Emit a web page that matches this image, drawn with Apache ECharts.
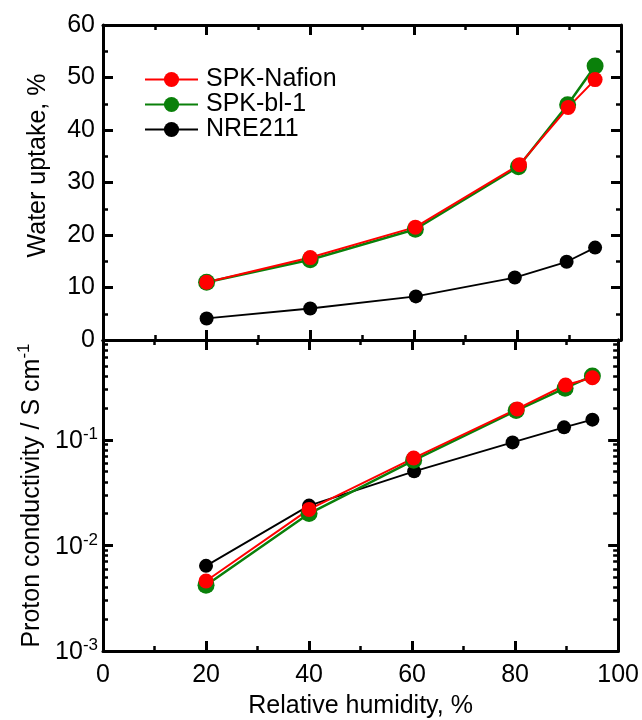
<!DOCTYPE html>
<html>
<head>
<meta charset="utf-8">
<script src="https://cdn.jsdelivr.net/npm/echarts@6/dist/echarts.min.js"></script>
<style>
  html, body { margin: 0; padding: 0; background: #fff; }
  #main { width: 642px; height: 720px; }
</style>
</head>
<body>
<div id="main"></div>
<script>
// relative humidity (x) for each sample
var humidityNafion = [20, 40, 60.3, 80.4, 89.8, 95];
var humidityBl1 = [20, 40, 60.3, 80.2, 89.7, 95];
var humidityNre = [20, 40, 60.4, 79.5, 89.5, 95];

// water uptake, %
var uptakeNafion = [11.0, 15.7, 21.5, 33.4, 44.3, 49.6];
var uptakeBl1 = [11.0, 15.3, 21.1, 33.0, 44.8, 52.2];
var uptakeNre = [4.1, 6.0, 8.3, 11.9, 14.9, 17.6];

// proton conductivity, S/cm
var condNafion = [0.0046, 0.0219, 0.0671, 0.196, 0.330, 0.387];
var condBl1 = [0.0042, 0.0200, 0.0639, 0.189, 0.308, 0.402];
var condNre = [0.0064, 0.0238, 0.0502, 0.0944, 0.131, 0.155];

// log axis ticks
var logMajor = [0.001, 0.01, 0.1];
var logMax = 0.88;
var logMinor = [];
logMajor.forEach(function (d) {
  for (var k = 2; k <= 9; k++) {
    if (d * k < logMax) logMinor.push(d * k);
  }
});

function pairs(xs, ys) {
  return xs.map(function (x, i) { return [x, ys[i]]; });
}

var FONT = 'Liberation Sans, Arial, sans-serif';
var FS = 25;
// onZero off, otherwise top/right axes jump onto the zero line
var lineAx = { onZero: false, lineStyle: { color: '#000', width: 3 } };
var tickMajor = { inside: true, length: 10, lineStyle: { color: '#000', width: 3 } };
var tickMinor = { show: true, splitNumber: 2, length: 5, lineStyle: { color: '#000', width: 2.5 } };
var lbl = { color: '#000', fontSize: FS, fontFamily: FONT };

function xAx(grid, pos, showLabel) {
  return {
    type: 'value', gridIndex: grid, position: pos, min: 0, max: 100, interval: 20,
    axisLine: lineAx, axisTick: tickMajor, minorTick: tickMinor,
    splitLine: { show: false },
    axisLabel: Object.assign({ show: showLabel, margin: 12 }, lbl)
  };
}

var supRich = {
  b: { fontSize: FS, fontFamily: FONT, color: '#000', verticalAlign: 'bottom' },
  s: { fontSize: 17, fontFamily: FONT, color: '#000', verticalAlign: 'bottom', padding: [0, 0, 11, 0] }
};

function logAx(pos, major) {
  return {
    type: 'log', logBase: 10, gridIndex: 1, position: pos, min: 0.001, max: logMax,
    axisLine: lineAx, splitLine: { show: false }, minorTick: { show: false },
    axisTick: {
      inside: true, customValues: major ? logMajor : logMinor, length: major ? 10 : 5,
      lineStyle: { color: '#000', width: major ? 3 : 2.5 }
    },
    axisLabel: { show: false }
  };
}

var yLogLeft = logAx('left', true);
yLogLeft.axisLabel = {
  show: true, margin: 5, customValues: logMajor,
  formatter: function (v) {
    return '{b|10}{s|' + Math.round(Math.log10(v)) + '}';
  },
  rich: supRich
};
yLogLeft.name = '{b|Proton conductivity / S cm}{s|-1}';
yLogLeft.nameLocation = 'middle';
yLogLeft.nameGap = 58;
yLogLeft.nameTextStyle = { rich: supRich };

var xBottom = xAx(1, 'bottom', true);
xBottom.name = 'Relative humidity, %';
xBottom.nameLocation = 'middle';
xBottom.nameGap = 43;
xBottom.nameTextStyle = lbl;

var option = {
  animation: false,
  backgroundColor: '#fff',
  textStyle: { fontFamily: FONT },
  grid: [
    { left: 103, right: 21, top: 25, height: 315 },
    { left: 103, right: 21, top: 340, height: 312 }
  ],
  legend: {
    data: ['SPK-Nafion', 'SPK-bl-1', 'NRE211'],
    orient: 'vertical', left: 139, top: 62,
    itemWidth: 53, itemHeight: 19, itemGap: 0,
    textStyle: { color: '#000', fontSize: FS, fontFamily: FONT, padding: [0, 0, 0, 3] }
  },
  xAxis: [
    xAx(0, 'bottom', false),
    xAx(0, 'top', false),
    xBottom,
    xAx(1, 'top', false)
  ],
  yAxis: [
    {
      type: 'value', gridIndex: 0, position: 'left', min: 0, max: 60, interval: 10,
      axisLine: lineAx, axisTick: tickMajor, minorTick: tickMinor, splitLine: { show: false },
      axisLabel: Object.assign({ margin: 8 }, lbl),
      name: 'Water uptake, %', nameLocation: 'middle', nameGap: 52,
      nameTextStyle: Object.assign({ padding: [0, 0, 0, 34] }, lbl)
    },
    {
      type: 'value', gridIndex: 0, position: 'right', min: 0, max: 60, interval: 10,
      axisLine: lineAx, axisTick: tickMajor, minorTick: tickMinor, splitLine: { show: false },
      axisLabel: { show: false }
    },
    yLogLeft,
    logAx('right', true),
    logAx('left', false),
    logAx('right', false)
  ],
  series: [
    { name: 'NRE211', type: 'line', xAxisIndex: 0, yAxisIndex: 0, data: pairs(humidityNre, uptakeNre),
      symbol: 'circle', symbolSize: 14, color: '#000', lineStyle: { width: 1.8 } },
    { name: 'SPK-bl-1', type: 'line', xAxisIndex: 0, yAxisIndex: 0, data: pairs(humidityBl1, uptakeBl1),
      symbol: 'circle', symbolSize: 17, color: '#0a800a', lineStyle: { width: 2.5 } },
    { name: 'SPK-Nafion', type: 'line', xAxisIndex: 0, yAxisIndex: 0, data: pairs(humidityNafion, uptakeNafion),
      symbol: 'circle', symbolSize: 15, color: '#ff0000', lineStyle: { width: 2 } },
    { name: 'NRE211', type: 'line', xAxisIndex: 2, yAxisIndex: 2, data: pairs(humidityNre, condNre),
      symbol: 'circle', symbolSize: 14, color: '#000', lineStyle: { width: 1.8 } },
    { name: 'SPK-bl-1', type: 'line', xAxisIndex: 2, yAxisIndex: 2, data: pairs(humidityBl1, condBl1),
      symbol: 'circle', symbolSize: 17, color: '#0a800a', lineStyle: { width: 2.5 } },
    { name: 'SPK-Nafion', type: 'line', xAxisIndex: 2, yAxisIndex: 2, data: pairs(humidityNafion, condNafion),
      symbol: 'circle', symbolSize: 15, color: '#ff0000', lineStyle: { width: 2 } }
  ]
};

var myChart = echarts.init(document.getElementById('main'));
myChart.setOption(option);
</script>
</body>
</html>
